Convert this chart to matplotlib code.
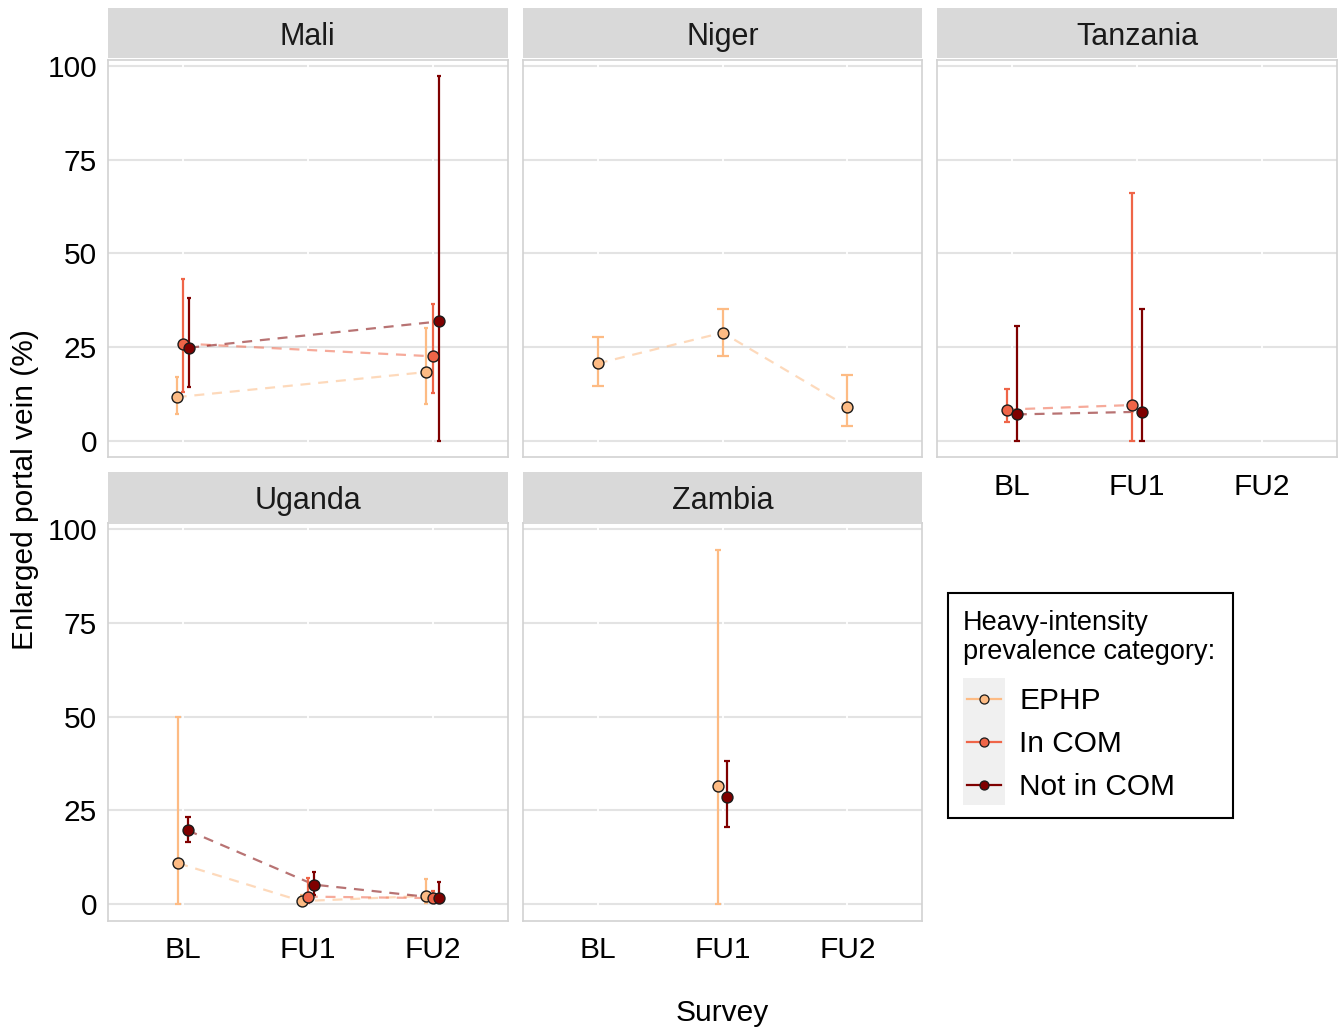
import numpy as np
import matplotlib
matplotlib.use("Agg")
import matplotlib.pyplot as plt
from matplotlib.lines import Line2D
from matplotlib.patches import Rectangle

nan = np.nan

surveys = ["BL", "FU1", "FU2"]
groups = ["EPHP", "In COM", "Not in COM"]
countries = ["Mali", "Niger", "Tanzania", "Uganda", "Zambia"]
y_ticks = [0, 25, 50, 75, 100]

# Estimates and confidence limits, rows = groups, columns = surveys
mali_est = [[11.6, nan, 18.3], [25.9, nan, 22.5], [24.8, nan, 31.8]]
mali_lo = [[7.1, nan, 9.7], [12.9, nan, 12.7], [14.3, nan, 0.0]]
mali_hi = [[17.0, nan, 30.0], [43.2, nan, 36.4], [38.1, nan, 97.3]]

niger_est = [[20.6, 28.8, 9.1], [nan, nan, nan], [nan, nan, nan]]
niger_lo = [[14.5, 22.5, 3.9], [nan, nan, nan], [nan, nan, nan]]
niger_hi = [[27.6, 35.1, 17.4], [nan, nan, nan], [nan, nan, nan]]

tanzania_est = [[nan, nan, nan], [8.3, 9.5, nan], [7.0, 7.7, nan]]
tanzania_lo = [[nan, nan, nan], [4.9, 0.0, nan], [0.0, 0.0, nan]]
tanzania_hi = [[nan, nan, nan], [13.8, 66.0, nan], [30.6, 35.0, nan]]

uganda_est = [[10.9, 0.8, 2.2], [nan, 2.0, 1.6], [19.7, 5.2, 1.6]]
uganda_lo = [[0.0, 0.1, 0.2], [nan, 0.2, 0.3], [16.5, 2.4, 0.2]]
uganda_hi = [[50.0, 2.5, 6.7], [nan, 7.0, 3.5], [23.2, 8.7, 6.0]]

zambia_est = [[nan, 31.5, nan], [nan, nan, nan], [nan, 28.6, nan]]
zambia_lo = [[nan, 0.0, nan], [nan, nan, nan], [nan, 20.5, nan]]
zambia_hi = [[nan, 94.5, nan], [nan, nan, nan], [nan, 38.2, nan]]

data = {
    "Mali": (mali_est, mali_lo, mali_hi),
    "Niger": (niger_est, niger_lo, niger_hi),
    "Tanzania": (tanzania_est, tanzania_lo, tanzania_hi),
    "Uganda": (uganda_est, uganda_lo, uganda_hi),
    "Zambia": (zambia_est, zambia_lo, zambia_hi),
}

point_colors = ["#FDBB84", "#EF6548", "#7F0000"]

plt.rcParams["font.family"] = ["Liberation Sans", "DejaVu Sans"]

W, H = 1338, 1032
fig = plt.figure(figsize=(W / 100, H / 100), dpi=100)

# panel geometry in pixels
col_left = [108.0, 522.8, 937.2]
panel_w = 399.5
row_top = [59.5, 523.0]
panel_h = 397.8
strip_h = 50.0
strip_gap = 1.2

layout = {"Mali": (0, 0), "Niger": (0, 1), "Tanzania": (0, 2),
          "Uganda": (1, 0), "Zambia": (1, 1)}

dodge_w = 0.15
err_w = 0.10
px_per_unit = panel_w / 3.2
pt_per_px = 72 / 100
fs = 21.5

for country in countries:
    r, c = layout[country]
    left = col_left[c]
    top = row_top[r]
    ax = fig.add_axes([left / W, 1 - (top + panel_h) / H, panel_w / W, panel_h / H])
    ax.set_xlim(-0.6, 2.6)
    ax.set_ylim(-4.45, 101.7)
    ax.set_facecolor("white")
    for yt in y_ticks:
        ax.axhline(yt, color="#E3E3E3", lw=1.5, zorder=0.5)
    for xt in range(len(surveys)):
        ax.axvline(xt, color="white", lw=1.3, zorder=0.6)
    for sp in ax.spines.values():
        sp.set_color("#D2D2D2")
        sp.set_linewidth(1.2)
        sp.set_zorder(0.7)
    ax.set_yticks(y_ticks)
    ax.set_xticks(range(len(surveys)))
    ax.tick_params(length=0, labelsize=fs, colors="black", pad=8)
    if c == 0:
        ax.set_yticklabels([str(v) for v in y_ticks])
    else:
        ax.set_yticklabels([])
    show_x = (r == 1) or (country == "Tanzania")
    if show_x:
        ax.set_xticklabels(surveys)
        ax.tick_params(axis="x", pad=11)
    else:
        ax.set_xticklabels([])

    est, lo, hi = (np.array(a, dtype=float) for a in data[country])

    # dodge positions per survey
    xpos = np.full(est.shape, nan)
    ncount = np.zeros(len(surveys), dtype=int)
    for j in range(len(surveys)):
        present = [g for g in range(len(groups)) if not np.isnan(est[g, j])]
        n = len(present)
        ncount[j] = n
        for k, g in enumerate(present):
            xpos[g, j] = j - dodge_w / 2 + dodge_w / n * (k + 0.5)

    for g in range(len(groups)):
        mask = ~np.isnan(est[g])
        if mask.sum() >= 2:
            ax.plot(xpos[g, mask], est[g, mask], color=point_colors[g], alpha=0.55,
                    lw=1.6, ls=(0, (4.5, 3.5)), zorder=2)
    for g in range(len(groups)):
        for j in range(len(surveys)):
            if np.isnan(est[g, j]):
                continue
            cap = err_w / ncount[j] / 2 * px_per_unit * pt_per_px
            ax.errorbar([xpos[g, j]], [est[g, j]],
                        yerr=[[est[g, j] - lo[g, j]], [hi[g, j] - est[g, j]]],
                        fmt="none", ecolor=point_colors[g], elinewidth=1.6,
                        capsize=cap, capthick=1.6, zorder=3)
    for g in range(len(groups)):
        mask = ~np.isnan(est[g])
        ax.scatter(xpos[g, mask], est[g, mask], s=62, color=point_colors[g],
                   edgecolors="#1A1A1A", linewidths=1.0, zorder=4)

    # strip
    sax = fig.add_axes([left / W, 1 - (top - strip_gap) / H, panel_w / W, strip_h / H])
    sax.set_xlim(0, 1)
    sax.set_ylim(0, 1)
    sax.axis("off")
    sax.add_patch(Rectangle((0, 0), 1, 1, facecolor="#D9D9D9", edgecolor="none",
                            transform=sax.transAxes))
    sax.text(0.5, 0.42, country, ha="center", va="center", fontsize=22, color="#1A1A1A")

fig.text(722 / W, 1 - 1013 / H, "Survey", ha="center", va="center", fontsize=fs)
fig.text(25 / W, 1 - 490 / H, "Enlarged portal vein (%)", ha="center", va="center",
         rotation=90, fontsize=fs)

# legend
lx0, ly0, lx1, ly1 = 948, 593, 1233, 818
fig.patches.append(Rectangle((lx0 / W, 1 - ly1 / H), (lx1 - lx0) / W, (ly1 - ly0) / H,
                             transform=fig.transFigure, facecolor="white",
                             edgecolor="black", lw=1.5, zorder=1))
fig.patches.append(Rectangle((963 / W, 1 - 805 / H), 42 / W, 127 / H,
                             transform=fig.transFigure, facecolor="#F0F0F0",
                             edgecolor="none", zorder=2))
fig.text(963 / W, 1 - 623 / H, "Heavy-intensity", ha="left", va="center", fontsize=19.5, zorder=3)
fig.text(963 / W, 1 - 652 / H, "prevalence category:", ha="left", va="center", fontsize=19.5, zorder=3)
key_y = [699, 742, 785]
for g, name in enumerate(groups):
    yk = 1 - key_y[g] / H
    fig.lines.append(Line2D([967 / W, 1001 / W], [yk, yk], transform=fig.transFigure,
                            color=point_colors[g], lw=1.6, zorder=3))
    fig.lines.append(Line2D([984 / W], [yk], transform=fig.transFigure, marker="o",
                            markersize=6.5, markerfacecolor=point_colors[g],
                            markeredgecolor="#1A1A1A", markeredgewidth=0.9, zorder=4))
    fig.text(1019 / W, yk - 2.0 / H, name, ha="left", va="center", fontsize=fs, zorder=3)

fig.savefig("out.png", dpi=100, facecolor="white")
